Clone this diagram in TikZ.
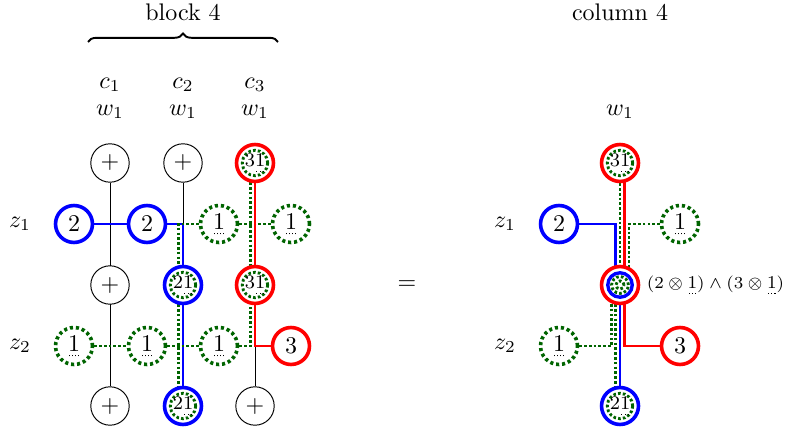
\documentclass[tikz,border=0pt]{standalone}
\usepackage{tikz}
\usetikzlibrary{positioning,calc,backgrounds,decorations.pathreplacing}

\definecolor{dkgreen}{RGB}{0,100,0}

\newsavebox{\ulbox}
\newcommand{\dotul}[1]{\sbox{\ulbox}{#1}\rlap{\raisebox{-2pt}{\hbox to \wd\ulbox{\xleaders\hbox to 1.25pt{\hss\rule{0.45pt}{0.45pt}\hss}\hfill}}}\usebox{\ulbox}}
\newcommand{\dotd}[1]{#1\rlap{\kern-1.2pt\rule[0.8pt]{0.5pt}{0.5pt}}}

\tikzset{
  plusnode/.style={circle, draw, thin, fill=white, minimum size=16pt, inner sep=0pt},
  bluenode/.style={circle, draw=blue, line width=1.5pt, fill=white, minimum size=15.4pt, inner sep=0pt},
  rednode/.style={bluenode, draw=red},
  greennode/.style={bluenode, draw=dkgreen, dash pattern=on 1.3pt off 1.2pt},
  gring/.style={font=\footnotesize, path picture={\draw[gline] (path picture bounding box.center) circle (5.3pt);}},
  mergenode/.style={rednode, path picture={
      \draw[blue, line width=1.4pt] (path picture bounding box.center) circle (5.1pt);
      \draw[gline] (path picture bounding box.center) circle (3.5pt);
      \draw[gline] (path picture bounding box.center) circle (1.7pt);}},
  bline/.style={blue, line width=1.2pt},
  rline/.style={red, line width=1.2pt},
  gline/.style={dkgreen, line width=1.2pt, dash pattern=on 1.1pt off 0.9pt},
  wire/.style={black, thin},
}

\begin{document}
\begin{tikzpicture}[x=0.4167pt, y=-0.4167pt]
    \useasboundingbox (0,0) rectangle (788,434);

    % Headings
    \node (blk) at (183,12) {block 4};
    \node (col) at (620,12) {column 4};
    \coordinate (brL) at (88,42);
    \coordinate (brR) at (278,42);
    \draw [decorate, decoration={brace, amplitude=3.5pt}, line width=0.8pt] (brL) -- (brR);

    % Column labels
    \foreach \x/\i/\n in {110/1/a, 183/2/b, 255/3/c} {
        \node (c\n) at (\x,85) {$c_{\i}$};
        \node (w\n) at (\x,112) {$w_1$};
    }
    \node (wr) at (620,112) {$w_1$};

    % Row labels
    \foreach \x/\n in {20/l, 505/r} {
        \node (z1\n) at (\x,224) {$z_1$};
        \node (z2\n) at (\x,346) {$z_2$};
    }

    % Block, columns
    \node [plusnode] (p1t) at (110,163) {$+$};
    \node [plusnode] (p1m) at (110,285) {$+$};
    \node [plusnode] (p1b) at (110,406) {$+$};
    \node [plusnode] (p2t) at (183,163) {$+$};
    \node [bluenode, gring] (p2m) at (183,285) {2\dotul{1}};
    \node [bluenode, gring] (p2b) at (183,406) {2\dotul{1}};
    \node [rednode, gring] (p3t) at (255,163) {3\dotul{1}};
    \node [rednode, gring] (p3m) at (255,285) {3\dotul{1}};
    \node [plusnode] (p3b) at (255,406) {$+$};

    % Block, rows
    \node [bluenode] (u1a) at (74,224) {\dotd{2}};
    \node [bluenode] (u1b) at (147,224) {\dotd{2}};
    \node [greennode] (u1c) at (219,224) {\dotul{1}};
    \node [greennode] (u1d) at (291,224) {\dotul{1}};
    \node [greennode] (u2a) at (74,346) {\dotul{1}};
    \node [greennode] (u2b) at (147,346) {\dotul{1}};
    \node [greennode] (u2c) at (219,346) {\dotul{1}};
    \node [rednode] (u2d) at (291,346) {\dotd{3}};

    \node (eq) at (407,285) {$=$};

    % Column 4
    \node [rednode, gring] (rt) at (620,163) {3\dotul{1}};
    \node [mergenode] (rm) at (620,285) {};
    \node [bluenode, gring] (rb) at (620,406) {2\dotul{1}};
    \node [bluenode] (v1l) at (559,224) {\dotd{2}};
    \node [greennode] (v1r) at (680,224) {\dotul{1}};
    \node [greennode] (v2l) at (559,346) {\dotul{1}};
    \node [rednode] (v2r) at (680,346) {\dotd{3}};
    \node [right=0pt of rm, font=\fontsize{7.5}{9}\selectfont, inner sep=2.5pt] (rml)
        {$(2\otimes\mbox{\dotul{1}})\wedge(3\otimes\mbox{\dotul{1}})$};

    \begin{scope}[on background layer]
        % wires
        \draw [wire] (p1t) -- (p1b);
        \draw [wire] (p2t) -- (p2t |- u1a);
        \draw [wire] (p3b) -- (p3b |- u2a);
        % block connectors
        \draw [bline] (u1a) -- (u1b) -| (p2m);
        \draw [gline] (u1d) -- (u1c) -| ([xshift=-1.9pt]p2m.center);
        \draw [gline] ([xshift=-1.9pt]p2m.center) -- ([xshift=-1.9pt]p2b.center);
        \draw [bline] (p2m) -- (p2b);
        \draw [gline] ([xshift=-1.9pt]p3t.center) -- ([xshift=-1.9pt]p3m.center);
        \draw [rline] (p3t) -- (p3m);
        \draw [gline] (u2a) -- (u2b) -- (u2c) -| ([xshift=-1.9pt]p3m.center);
        \draw [rline] (u2d) -| (p3m);
        % column connectors
        \draw [bline] (v1l) -| ([xshift=-1.7pt]rm.center);
        \draw [gline] (rt) -- (rm);
        \draw [rline] ([xshift=1.9pt]rt.center) -- ([xshift=1.9pt]rm.center);
        \draw [gline] (v1r) -| ([xshift=3.75pt]rm.center);
        \draw [gline] (v2l) -| ([xshift=-3.4pt]rm.center);
        \draw [gline] ([xshift=-1.7pt]rm.center) -- ([xshift=-1.7pt]rb.center);
        \draw [bline] (rm) -- (rb);
        \draw [rline] (v2r) -| ([xshift=1.9pt]rm.center);
    \end{scope}
\end{tikzpicture}
\end{document}
